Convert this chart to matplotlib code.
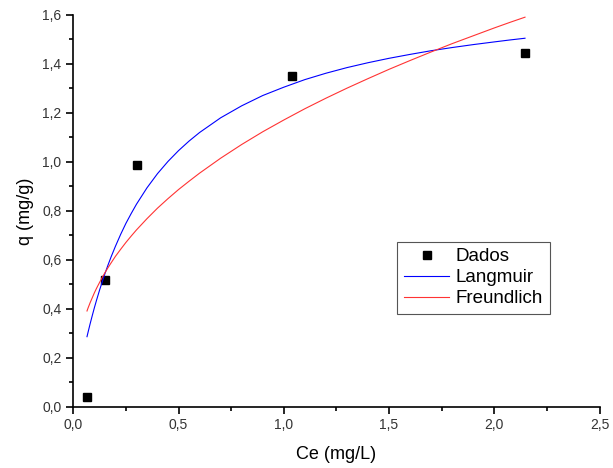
import matplotlib
matplotlib.use("Agg")
import matplotlib.pyplot as plt
from matplotlib.ticker import MultipleLocator

plt.rcParams['font.family'] = ['Liberation Sans', 'DejaVu Sans']

# dados experimentais
ce_dados = [0.065, 0.152, 0.302, 1.037, 2.146]
q_dados = [0.041, 0.518, 0.987, 1.351, 1.443]

# curvas ajustadas
ce_curva = [0.065, 0.07, 0.08, 0.09, 0.10, 0.11, 0.125, 0.14, 0.15, 0.165,
            0.18, 0.2, 0.225, 0.25, 0.275, 0.3, 0.35, 0.4, 0.45, 0.5,
            0.55, 0.6, 0.7, 0.8, 0.9, 1.0, 1.1, 1.2, 1.3, 1.4,
            1.5, 1.6, 1.7, 1.8, 1.9, 2.0, 2.075, 2.146]
q_langmuir = [0.286, 0.304, 0.339, 0.372, 0.404, 0.434, 0.477, 0.517, 0.543, 0.579,
              0.613, 0.655, 0.704, 0.749, 0.789, 0.827, 0.894, 0.952, 1.002, 1.046,
              1.085, 1.120, 1.180, 1.229, 1.271, 1.305, 1.336, 1.362, 1.385, 1.405,
              1.423, 1.439, 1.454, 1.467, 1.479, 1.490, 1.498, 1.505]
q_freundlich = [0.391, 0.403, 0.425, 0.445, 0.465, 0.483, 0.508, 0.532, 0.547, 0.568,
                0.588, 0.614, 0.643, 0.671, 0.697, 0.722, 0.768, 0.811, 0.850, 0.887,
                0.921, 0.954, 1.015, 1.071, 1.123, 1.171, 1.217, 1.260, 1.301, 1.340,
                1.378, 1.414, 1.449, 1.483, 1.515, 1.547, 1.570, 1.591]

xticks = [0.0, 0.5, 1.0, 1.5, 2.0, 2.5]
xtick_labels = ['0,0', '0,5', '1,0', '1,5', '2,0', '2,5']
yticks = [0.0, 0.2, 0.4, 0.6, 0.8, 1.0, 1.2, 1.4, 1.6]
ytick_labels = ['0,0', '0,2', '0,4', '0,6', '0,8', '1,0', '1,2', '1,4', '1,6']

fig = plt.figure(figsize=(6.13, 4.68), dpi=100)
ax = fig.add_axes([0.1196, 0.131, 0.8584, 0.837])

ax.plot(ce_dados, q_dados, 's', color='black', markersize=6, label='Dados')
ax.plot(ce_curva, q_langmuir, color='#0000ff', linewidth=0.8, label='Langmuir')
ax.plot(ce_curva, q_freundlich, color='#ff3333', linewidth=0.8, label='Freundlich')

ax.set_xlim(0, 2.5)
ax.set_ylim(0, 1.6)
ax.set_xticks(xticks)
ax.set_xticklabels(xtick_labels)
ax.set_yticks(yticks)
ax.set_yticklabels(ytick_labels)
ax.xaxis.set_minor_locator(MultipleLocator(0.25))
ax.yaxis.set_minor_locator(MultipleLocator(0.1))

for s in ['top', 'right']:
    ax.spines[s].set_visible(False)
for s in ['left', 'bottom']:
    ax.spines[s].set_linewidth(1.2)

ax.tick_params(which='major', direction='out', length=5, width=1.2,
               labelsize=10, labelcolor='#333333')
ax.tick_params(which='minor', direction='out', length=3, width=1.2)

ax.set_xlabel('Ce (mg/L)', fontsize=13, labelpad=10)
ax.set_ylabel('q (mg/g)', fontsize=13, labelpad=6)

leg = ax.legend(loc='upper left', bbox_to_anchor=(0.616, 0.421), borderaxespad=0,
                fontsize=13.5, fancybox=False, framealpha=1, edgecolor='#555555',
                handlelength=2.4, handletextpad=0.35, borderpad=0.35, labelspacing=0.2)
leg.get_frame().set_linewidth(0.8)

fig.savefig('out.png', dpi=100)
